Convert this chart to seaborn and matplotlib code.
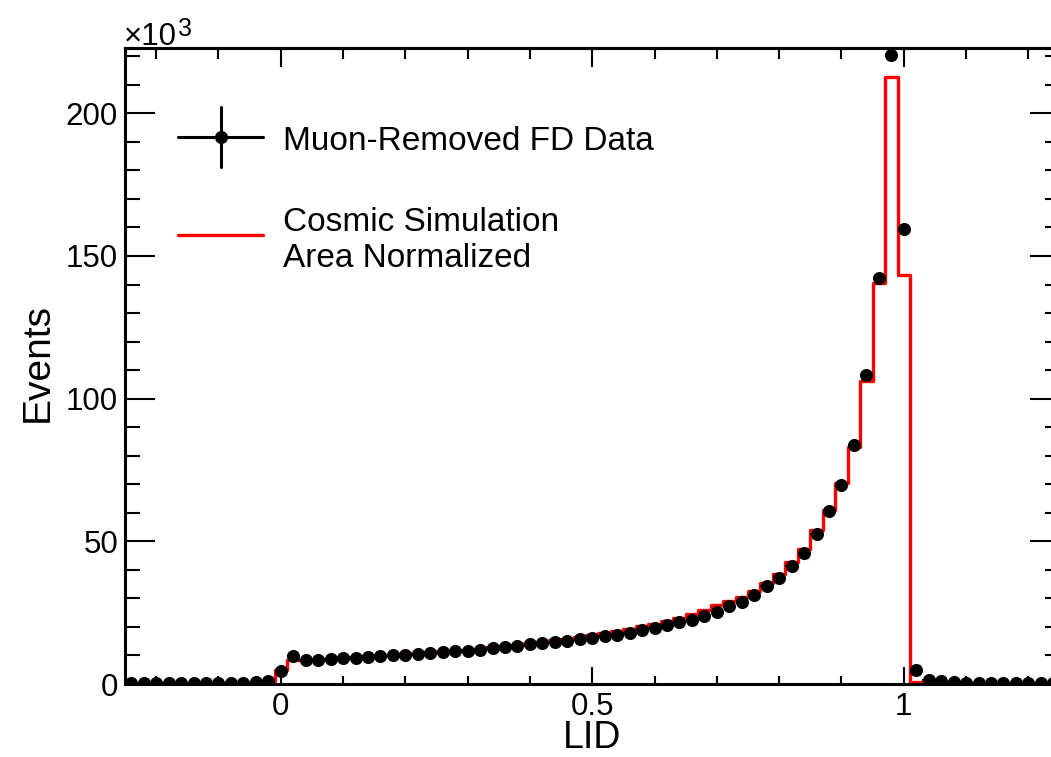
import numpy as np
import pandas as pd
import matplotlib
matplotlib.use("Agg")
import matplotlib.pyplot as plt
from matplotlib.lines import Line2D
from matplotlib.ticker import FixedLocator, MultipleLocator, NullFormatter
import seaborn as sns

# LID binning: 75 bins of width 0.02 between -0.25 and 1.25
lid_edges = np.linspace(-0.25, 1.25, 76)
lid_centers = 0.5 * (lid_edges[:-1] + lid_edges[1:])

# Muon-removed far-detector data, events per bin (in units of 10^3)
data_counts = np.array([
    0.2, 0.2, 0.2, 0.2, 0.2, 0.25, 0.25, 0.3, 0.35, 0.5, 0.8, 1.2,
    4.7, 9.8, 8.3, 8.3, 8.6, 9.0, 9.2, 9.6, 9.8, 10.2,
    10.3, 10.5, 10.9, 11.1, 11.4, 11.5, 12.0, 12.6, 13.1, 13.4,
    14.0, 14.4, 14.6, 15.2, 15.7, 16.0, 16.7, 17.2, 18.0, 19.0,
    19.6, 20.8, 21.9, 22.5, 23.8, 25.3, 27.2, 28.8, 31.2, 34.2,
    37.0, 41.2, 45.9, 52.4, 60.7, 69.9, 83.6, 108.2, 142.4, 220.6,
    159.5, 5.0, 1.5, 0.9, 0.8, 0.5, 0.4, 0.3, 0.3, 0.3,
    0.3, 0.3, 0.3,
])

# Cosmic simulation, area normalised to the data (in units of 10^3)
mc_counts = np.array([
    0.1, 0.1, 0.1, 0.1, 0.1, 0.15, 0.15, 0.2, 0.25, 0.4, 0.7, 1.0,
    5.0, 8.5, 8.4, 8.5, 8.8, 9.1, 9.4, 9.7, 10.0, 10.3,
    10.5, 10.8, 11.1, 11.4, 11.7, 12.0, 12.4, 12.8, 13.3, 13.8,
    14.3, 14.8, 15.3, 15.9, 16.5, 17.2, 17.9, 18.6, 19.4, 20.3,
    21.2, 22.2, 23.3, 24.5, 26.0, 27.6, 29.0, 30.6, 32.6, 35.5,
    38.5, 42.8, 47.3, 54.0, 61.0, 70.3, 83.2, 106.2, 140.4, 212.6,
    143.4, 0.6, 0.3, 0.2, 0.2, 0.2, 0.2, 0.2, 0.2, 0.2,
    0.2, 0.2, 0.2,
])

# Poisson uncertainty on the data, expressed in the same 10^3 units
data_err = np.sqrt(data_counts * 1000.0) / 1000.0
bin_half_width = np.diff(lid_edges) / 2.0

x_major = [0.0, 0.5, 1.0]
x_major_labels = ["0", "0.5", "1"]
legend_labels = ["Muon-Removed FD Data", "Cosmic Simulation\nArea Normalized"]

sim = pd.DataFrame({"lid": lid_centers, "events": mc_counts})

sns.set_theme(style="ticks")
plt.rcParams["font.family"] = ["Liberation Sans", "DejaVu Sans"]
plt.rcParams["axes.linewidth"] = 2.2
for key in ["text.color", "axes.labelcolor", "xtick.color", "ytick.color",
            "xtick.labelcolor", "ytick.labelcolor", "axes.edgecolor"]:
    plt.rcParams[key] = "black"

W, H = 1051, 757
fig = plt.figure(figsize=(W / 100, H / 100), dpi=100)
fig.patch.set_facecolor("white")
ax = fig.add_axes([125 / W, (H - 684) / H, 934.5 / W, 636.3 / H])
ax.set_facecolor("white")


def px(x, y):
    """Pixel position (from top-left) to figure fraction."""
    return x / W, 1 - y / H


# Simulation histogram outline
sns.histplot(data=sim, x="lid", weights="events", bins=list(lid_edges),
             element="step", fill=False, color="#ff0000",
             linewidth=2.4, ax=ax)

# Data points with error bars
ax.errorbar(lid_centers, data_counts, xerr=bin_half_width, yerr=data_err,
            fmt="o", color="black", markersize=8.4, elinewidth=1.5,
            capsize=0, zorder=3)

ax.set_xlim(-0.25, 1.25)
ax.set_ylim(0, 223)

# Axis ticks on all sides, pointing inward
ax.xaxis.set_major_locator(FixedLocator(x_major))
ax.set_xticklabels(x_major_labels)
ax.xaxis.set_minor_locator(MultipleLocator(0.1))
ax.yaxis.set_major_locator(MultipleLocator(50))
ax.yaxis.set_minor_locator(MultipleLocator(10))
ax.tick_params(axis="x", which="major", direction="in", length=12.2,
               width=1.5, labelsize=22.5, pad=6, bottom=True, top=False,
               colors="black")
ax.tick_params(axis="x", which="minor", direction="in", length=6,
               width=1.5, bottom=True, top=False, colors="black")
ax.tick_params(axis="y", which="major", direction="in", length=21.6,
               width=1.5, labelsize=22.5, pad=5, left=True, right=True,
               colors="black")
ax.tick_params(axis="y", which="minor", direction="in", length=10.8,
               width=1.5, left=True, right=True, colors="black")

top = ax.secondary_xaxis("top")
top.xaxis.set_major_locator(FixedLocator(x_major))
top.xaxis.set_minor_locator(MultipleLocator(0.1))
top.xaxis.set_major_formatter(NullFormatter())
top.tick_params(axis="x", which="major", direction="in", length=13.7,
                width=1.5, colors="black")
top.tick_params(axis="x", which="minor", direction="in", length=7.9,
                width=1.5, colors="black")
top.spines["top"].set_linewidth(2.2)
top.spines["top"].set_color("black")

for side in ["left", "right", "top", "bottom"]:
    ax.spines[side].set_visible(True)
    ax.spines[side].set_color("black")
    ax.spines[side].set_linewidth(2.2)

# Axis titles
ax.set_xlabel("LID", fontsize=27, color="black")
ax.xaxis.label.set_va("baseline")
ax.xaxis.set_label_coords(0.5, (684 - 748) / 636.3)
ax.set_ylabel("Events", fontsize=28, color="black")
ax.yaxis.label.set_rotation_mode("anchor")
ax.yaxis.label.set_va("baseline")
ax.yaxis.label.set_ha("center")
ax.yaxis.set_label_coords((48 - 125) / 934.5, (684 - 363) / 636.3)

# Exponent of the y scale
fig.text(*px(124, 45), "\u00d710", fontsize=22.5, ha="left",
         va="baseline", color="black")
fig.text(*px(178, 36), "3", fontsize=18, ha="left", va="baseline",
         color="black")

# Legend
lw_leg = 2.2
fig.add_artist(Line2D([px(178, 0)[0], px(263, 0)[0]],
                      [px(0, 137)[1], px(0, 137)[1]],
                      transform=fig.transFigure, color="black", lw=lw_leg))
fig.add_artist(Line2D([px(221, 0)[0], px(221, 0)[0]],
                      [px(0, 107)[1], px(0, 167)[1]],
                      transform=fig.transFigure, color="black", lw=lw_leg))
fig.add_artist(Line2D([px(221, 0)[0]], [px(0, 137)[1]],
                      transform=fig.transFigure, color="black",
                      marker="o", markersize=8.4, linestyle="none"))
fig.text(*px(283, 150), legend_labels[0], fontsize=24, ha="left",
         va="baseline", color="black")

fig.add_artist(Line2D([px(178, 0)[0], px(263, 0)[0]],
                      [px(0, 235)[1], px(0, 235)[1]],
                      transform=fig.transFigure, color="#ff0000", lw=2.4))
first, second = legend_labels[1].split("\n")
fig.text(*px(283, 231), first, fontsize=24, ha="left", va="baseline",
         color="black")
fig.text(*px(283, 267), second, fontsize=24, ha="left", va="baseline",
         color="black")

fig.savefig("out.png", dpi=100, facecolor="white")
